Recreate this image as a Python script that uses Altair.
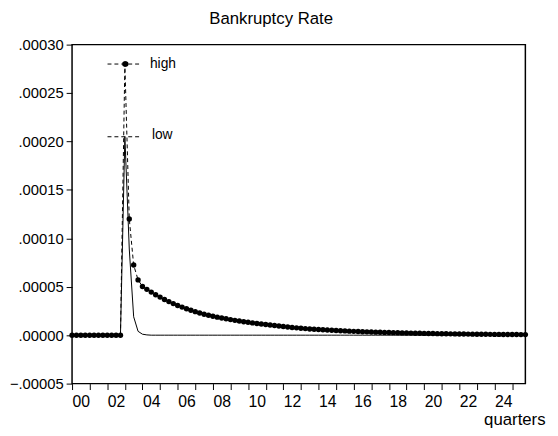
import altair as alt
import pandas as pd

# quarterly observations, 2000Q1 onwards
high = [
    0.0, 0.0, 0.0, 0.0, 0.0, 0.0, 0.0, 0.0, 0.0, 0.0, 0.0, 0.0,
    2.80e-4, 1.20e-4, 7.24e-5, 5.71e-5, 5.03e-5, 4.73e-5, 4.45e-5, 4.18e-5,
    3.93e-5, 3.69e-5, 3.47e-5, 3.26e-5, 3.07e-5, 2.90e-5, 2.73e-5, 2.58e-5,
    2.43e-5, 2.29e-5, 2.16e-5, 2.06e-5, 1.96e-5, 1.86e-5, 1.77e-5, 1.69e-5,
    1.61e-5, 1.53e-5, 1.46e-5, 1.39e-5, 1.33e-5, 1.27e-5, 1.21e-5, 1.16e-5,
    1.10e-5, 1.05e-5, 1.00e-5, 9.5e-6, 9.0e-6, 8.5e-6, 8.0e-6, 7.6e-6,
    7.2e-6, 6.8e-6, 6.45e-6, 6.15e-6, 5.85e-6, 5.6e-6, 5.3e-6, 5.05e-6,
    4.8e-6, 4.6e-6, 4.4e-6, 4.15e-6, 3.95e-6, 3.8e-6, 3.6e-6, 3.45e-6,
    3.3e-6, 3.15e-6, 3.0e-6, 2.85e-6, 2.7e-6, 2.6e-6, 2.45e-6, 2.35e-6,
    2.25e-6, 2.15e-6, 2.05e-6, 1.95e-6, 1.85e-6, 1.75e-6, 1.68e-6, 1.6e-6,
    1.52e-6, 1.45e-6, 1.38e-6, 1.31e-6, 1.25e-6, 1.19e-6, 1.13e-6, 1.07e-6,
    1.02e-6, 9.7e-7, 9.2e-7, 8.8e-7, 8.3e-7, 7.9e-7, 7.5e-7, 7.1e-7,
    6.8e-7, 6.5e-7, 6.2e-7, 5.9e-7,
]
low = [0.0] * 12 + [2.05e-4, 8.9e-5, 1.9e-5, 4.0e-6, 1.0e-6, 3.0e-7] + [0.0] * 86

year_ticks = list(range(0, 101, 4))
y_ticks = [-0.00005, 0.0, 0.00005, 0.0001, 0.00015, 0.0002, 0.00025, 0.0003]

n = len(high)
df = pd.DataFrame({
    "q": list(range(n)) * 2,
    "value": high + low,
    "series": ["high"] * n + ["low"] * n,
})

x = alt.X(
    "q:Q",
    scale=alt.Scale(domain=[0, 103], nice=False, zero=False),
    axis=alt.Axis(
        values=year_ticks,
        labelExpr="datum.value % 8 == 0 ? (datum.value < 40 ? '0' : '') + (datum.value / 4) : ''",
        labelOffset=8.9,
        labelOverlap=False,
        labelFlush=False,
        labelFontSize=16,
        labelPadding=4,
        title="quarters",
        titleX=480,
        titleY=29,
        titleAlign="right",
        titleBaseline="top",
        titleFontSize=17,
        titleFontWeight="normal",
    ),
)
y = alt.Y(
    "value:Q",
    scale=alt.Scale(domain=[-0.00005, 0.0003], nice=False),
    axis=alt.Axis(
        values=y_ticks,
        labelExpr="replace(format(datum.value, '.5f'), '0.', '.')",
        labelFontSize=15,
        labelPadding=3,
        title=None,
    ),
)

base = alt.Chart(df).encode(x=x, y=y)
high_df = base.transform_filter("datum.series == 'high'")
low_df = base.transform_filter("datum.series == 'low'")

high_line = high_df.mark_line(color="black", strokeWidth=1, strokeDash=[4, 3])
high_pts = high_df.mark_point(filled=True, color="black", size=30, opacity=1)
low_line = low_df.mark_line(color="black", strokeWidth=1)

# legend drawn inside the plot, EViews style
leg = alt.Chart(pd.DataFrame({"label": ["high", "low"]}))
leg_high = leg.transform_filter("datum.label == 'high'")
leg_low = leg.transform_filter("datum.label == 'low'")

legend = alt.layer(
    leg_high.mark_rule(color="black", strokeWidth=1, strokeDash=[4, 3]).encode(
        x=alt.value(36), x2=alt.value(68), y=alt.value(19.7)),
    leg_high.mark_point(filled=True, color="black", size=30, opacity=1).encode(
        x=alt.value(54.5), y=alt.value(19.7)),
    leg_high.mark_text(align="left", baseline="middle", fontSize=14).encode(
        x=alt.value(79), y=alt.value(20), text="label:N"),
    leg_low.mark_rule(color="black", strokeWidth=1, strokeDash=[4, 3]).encode(
        x=alt.value(36), x2=alt.value(68), y=alt.value(93.5)),
    leg_low.mark_text(align="left", baseline="middle", fontSize=14).encode(
        x=alt.value(81), y=alt.value(92), text="label:N"),
)

chart = alt.layer(high_line, low_line, high_pts, legend).properties(
    width=460,
    height=344,
    title=alt.TitleParams(
        "Bankruptcy Rate", fontSize=17, fontWeight="normal",
        anchor="middle", dx=-28, offset=10, color="black",
    ),
    autosize=alt.AutoSizeParams(type="none"),
    padding={"left": 65, "top": 34, "right": 25, "bottom": 50},
).configure(
    font="Liberation Sans",
    background="white",
).configure_view(
    stroke="black", strokeWidth=1.5,
).configure_axis(
    domain=False, grid=False, ticks=True, tickColor="black", tickWidth=1,
    tickSize=6, labelColor="black", titleColor="black",
)

chart.save("out.html", embed_options={"renderer": "svg", "actions": False})
